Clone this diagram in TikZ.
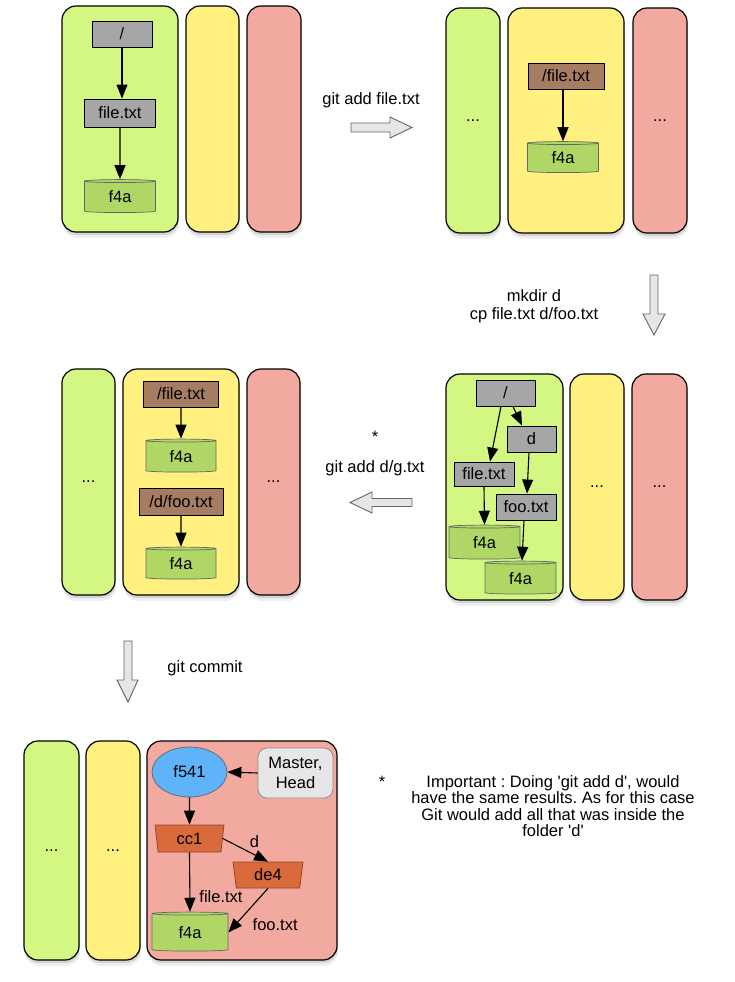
\documentclass[tikz,border=0pt]{standalone}
\usepackage{fontspec}
\setmainfont{Liberation Sans}
\usetikzlibrary{arrows.meta,shapes.geometric,shadows}
\frenchspacing

\definecolor{pgreen}{HTML}{D4F784}
\definecolor{pyellow}{HTML}{FFF07F}
\definecolor{pred}{HTML}{F2A99F}
\definecolor{ngray}{HTML}{A6A6A6}
\definecolor{nbrown}{HTML}{A67C62}
\definecolor{cgreen}{HTML}{B0D766}
\definecolor{eblue}{HTML}{5EB3F9}
\definecolor{torange}{HTML}{D96A3B}
\definecolor{mgray}{HTML}{E6E6E6}
\definecolor{bigarrowfill}{HTML}{E6E6E6}
\definecolor{bigarrowdraw}{HTML}{666666}

\tikzset{
  every node/.style={font=\fontsize{16.5}{16.5}\selectfont, inner sep=0pt},
  panel/.style={draw=black, line width=1.2pt, rounded corners=14pt,
    drop shadow={shadow xshift=1pt, shadow yshift=-6pt, opacity=0.12},
    drop shadow={shadow xshift=0.5pt, shadow yshift=-3pt, opacity=0.25}},
  gpanel/.style={panel, fill=pgreen},
  ypanel/.style={panel, fill=pyellow},
  rpanel/.style={panel, fill=pred},
  treebox/.style={draw=black, line width=0.9pt, fill=ngray, rectangle},
  idxbox/.style={draw=black, line width=0.9pt, fill=nbrown, rectangle},
  blob/.style={cylinder, shape border rotate=90, aspect=0.13, draw=black!60,
    line width=0.7pt, fill=cgreen},
  commitnode/.style={ellipse, draw=black!60, line width=0.7pt, fill=eblue},
  treenode/.style={trapezium, trapezium left angle=105, trapezium right angle=105,
    trapezium stretches body, draw=torange!65!black, line width=0.7pt, fill=torange},
  refbox/.style={draw=black!45, line width=0.8pt, fill=mgray, rounded corners=9pt,
    align=center, font=\fontsize{16.5}{20.5}\selectfont},
  tipshape/.tip={Triangle[length=14pt,width=11pt]},
  link/.style={-tipshape, line width=1.1pt, black},
  bigarrow/.style={fill=bigarrowfill, draw=bigarrowdraw, line width=0.9pt, line join=miter},
  caption/.style={align=center},
}

\begin{document}
\begin{tikzpicture}[x=1pt, y=-1pt]
\useasboundingbox (0,0) rectangle (734,982);
\fill[white] (0,0) rectangle (734,982);

% ---------- Panel 1 (top-left) ----------
\node[gpanel, minimum width=116pt, minimum height=226pt] (g1) at (120,119) {};
\node[ypanel, minimum width=53pt, minimum height=226pt] (y1) at (212.5,119) {};
\node[rpanel, minimum width=54pt, minimum height=226pt] (r1) at (274,119) {};
\node[treebox, minimum width=60pt, minimum height=26pt] (root1) at (122,34) {/};
\node[treebox, minimum width=71pt, minimum height=28pt] (file1) at (120,113) {file.txt};
\node[blob, minimum width=71pt, minimum height=33pt] (cyl1) at (120,197) {f4a};
\draw[link] (root1.south) -- (root1.south |- file1.north);
\draw[link] (file1) -- (cyl1);

% ---------- Arrow: git add file.txt ----------
\node[caption] (cap1) at (371,100) {git add file.txt};
\draw[bigarrow] (351,123) -- (390,123) -- (390,117) -- (412,127.5) -- (390,138) -- (390,132) -- (351,132) -- cycle;

% ---------- Panel 2 (top-right) ----------
\node[gpanel, minimum width=54pt, minimum height=225pt] (g2) at (473,120.5) {...};
\node[ypanel, minimum width=116pt, minimum height=225pt] (y2) at (566,120.5) {};
\node[rpanel, minimum width=54pt, minimum height=225pt] (r2) at (660,120.5) {...};
\node[idxbox, minimum width=76pt, minimum height=26pt] (pfile2) at (566,76) {/file.txt};
\node[blob, minimum width=71pt, minimum height=31pt] (cyl2) at (563,158) {f4a};
\draw[link] (pfile2.south -| cyl2.north) -- (cyl2.north);

% ---------- Arrow: mkdir ----------
\node[caption, font=\fontsize{16.5}{18}\selectfont] (cap2) at (534,306) {mkdir d\\cp file.txt d/foo.txt};
\draw[bigarrow] (650,275) -- (658,275) -- (658,314) -- (665,314) -- (654,335) -- (643,314) -- (650,314) -- cycle;

% ---------- Panel 3 (middle-right) ----------
\node[gpanel, minimum width=117pt, minimum height=226pt] (g3) at (504.5,487) {};
\node[ypanel, minimum width=54pt, minimum height=226pt] (y3) at (597,487) {...};
\node[rpanel, minimum width=55pt, minimum height=226pt] (r3) at (659.5,487) {...};
\node[treebox, minimum width=59pt, minimum height=26pt] (root3) at (505.5,393) {/};
\node[treebox, minimum width=49pt, minimum height=26pt] (d3) at (531.5,439) {d};
\node[treebox, minimum width=60pt, minimum height=24pt] (file3) at (484,474) {file.txt};
\node[treebox, minimum width=60pt, minimum height=26pt] (foo3) at (526,507) {foo.txt};
\node[blob, minimum width=71pt, minimum height=34pt] (cyl3a) at (484.5,543) {f4a};
\node[blob, minimum width=71pt, minimum height=33pt] (cyl3b) at (520.5,578.5) {f4a};
\draw[link] ([xshift=-4.5pt]root3.south) -- ([xshift=6pt]file3.north);
\draw[link] ([xshift=7.5pt]root3.south) -- ([xshift=-9.5pt]d3.north);
\draw[link] ([xshift=-2.5pt]d3.south) -- ([xshift=1pt]foo3.north);
\draw[link] (file3.south) -- (cyl3a.north);
\draw[link] ([xshift=-2pt]foo3.south) -- ([xshift=1.5pt]cyl3b.north);

% ---------- Arrow: git add d/g.txt ----------
\node[caption] (star1) at (375,437) {*};
\node[caption] (cap3) at (375,468) {git add d/g.txt};
\draw[bigarrow] (412,498.5) -- (372,498.5) -- (372,492) -- (350,502.5) -- (372,513) -- (372,506.5) -- (412,506.5) -- cycle;

% ---------- Panel 4 (middle-left) ----------
\node[gpanel, minimum width=53pt, minimum height=226pt] (g4) at (88.5,482) {...};
\node[ypanel, minimum width=116pt, minimum height=226pt] (y4) at (181,482) {};
\node[rpanel, minimum width=53pt, minimum height=226pt] (r4) at (273.5,482) {...};
\node[idxbox, minimum width=75pt, minimum height=26pt] (pfile4) at (181,394) {/file.txt};
\node[blob, minimum width=70pt, minimum height=33pt] (cyl4a) at (181,456.5) {f4a};
\node[idxbox, minimum width=84pt, minimum height=27pt] (pfoo4) at (181,501.5) {/d/foo.txt};
\node[blob, minimum width=70pt, minimum height=32pt] (cyl4b) at (181,564) {f4a};
\draw[link] (pfile4) -- (cyl4a);
\draw[link] (pfoo4) -- (cyl4b);

% ---------- Arrow: git commit ----------
\node[caption] (cap4) at (205,668) {git commit};
\draw[bigarrow] (124,641) -- (132,641) -- (132,680) -- (138,680) -- (128,702) -- (117,680) -- (124,680) -- cycle;

% ---------- Panel 5 (bottom) ----------
\node[gpanel, minimum width=55pt, minimum height=219pt] (g5) at (51.5,850.5) {...};
\node[ypanel, minimum width=54pt, minimum height=219pt] (y5) at (113,850.5) {...};
\node[rpanel, minimum width=190pt, minimum height=219pt] (r5) at (242,850.5) {};
\node[commitnode, minimum width=75pt, minimum height=50pt] (f541) at (189.5,772) {f541};
\node[refbox, minimum width=75pt, minimum height=50pt] (master) at (295.5,773) {Master,\\Head};
\node[treenode, minimum width=69pt, minimum height=27pt] (cc1) at (189.5,838.5) {cc1};
\node[treenode, minimum width=70pt, minimum height=26pt] (de4) at (268,875) {de4};
\node[blob, minimum width=76pt, minimum height=39pt] (cyl5) at (190,932.5) {f4a};
\draw[link] (master.west) -- (f541.east);
\draw[link] (f541.south) -- (cc1.north);
\draw[link] (cc1.east) -- (de4.north) node[midway, xshift=9pt, yshift=8pt] (lbld) {d};
\draw[link] (cc1.south) -- (cyl5.north) node[pos=0.75, right=9pt] (lblfile) {file.txt};
\draw[link] (de4.south) -- (cyl5.east) node[midway, xshift=27pt, yshift=-14pt] (lblfoo) {foo.txt};

% ---------- Note ----------
\node[caption] (star2) at (382,782) {*};
\node[caption, font=\fontsize{16.5}{16.2}\selectfont] (note) at (553,806) {Important : Doing \textquotesingle git add d\textquotesingle, would\\have the same results. As for this case\\Git would add all that was inside the\\folder \textquotesingle d\textquotesingle};

\end{tikzpicture}
\end{document}
